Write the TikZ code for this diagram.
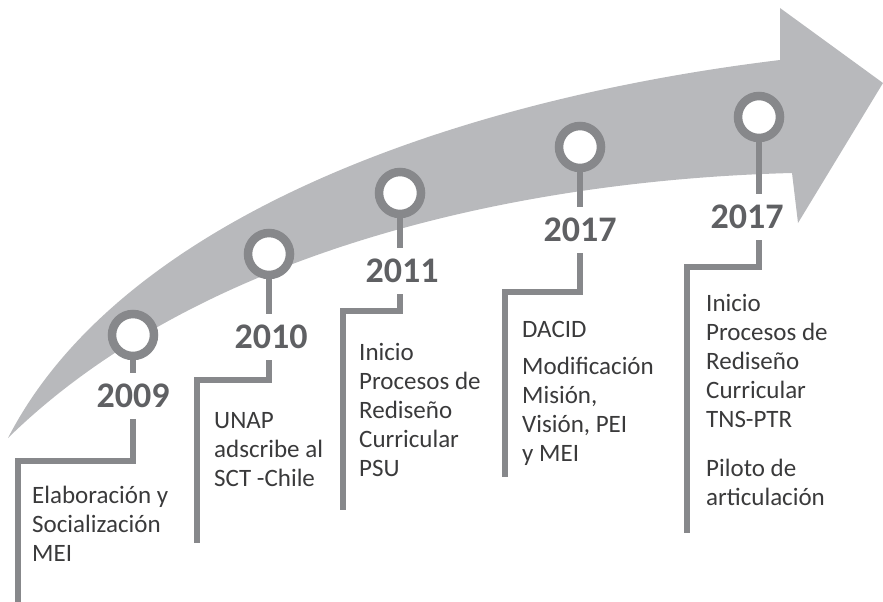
\documentclass[tikz,border=0pt]{standalone}
\usepackage{fontspec}
\setmainfont{Carlito}
\definecolor{arrowgray}{HTML}{B8B9BC}
\definecolor{linegray}{HTML}{87888B}
\definecolor{yeargray}{HTML}{5F6063}
\definecolor{textgray}{HTML}{3A3A3B}
\tikzset{
  ring/.style={circle, draw=linegray, line width=8.5pt, fill=white, minimum size=42pt, inner sep=0pt},
  year/.style={font=\fontsize{36}{40}\selectfont\bfseries, text=yeargray, inner xsep=0pt, inner ysep=11pt},
  conn/.style={draw=linegray, line width=6pt, line join=miter},
  desc/.style={anchor=base west, inner sep=0pt, text=textgray, font=\fontsize{25}{29}\selectfont}
}
\begin{document}
\begin{tikzpicture}[x=1pt, y=-1pt]
\useasboundingbox (0,0) rectangle (883,602);
% big arrow
\fill[arrowgray] (8,438) .. controls (120,220) and (450,100) .. (780,60) -- (780,8) -- (883,83) -- (798,223) -- (792,173) .. controls (520,180) and (200,250) .. (8,438) -- cycle;

% year labels
\node[year] (y1) at (133,396) {2009};
\node[year] (y2) at (271,337) {2010};
\node[year] (y3) at (402,271) {2011};
\node[year] (y4) at (580,230) {2017};
\node[year] (y5) at (747,217) {2017};

% corner and end coordinates
\coordinate (k1) at (18,461);  \coordinate (e1) at (18,602);
\coordinate (k2) at (197,380); \coordinate (e2) at (197,543);
\coordinate (k3) at (343,311); \coordinate (e3) at (343,510);
\coordinate (k4) at (505,292); \coordinate (e4) at (505,477);
\coordinate (k5) at (687,267); \coordinate (e5) at (687,533);

% circle positions
\coordinate (p1) at (133,335);
\coordinate (p2) at (269,254);
\coordinate (p3) at (400,193);
\coordinate (p4) at (580,147);
\coordinate (p5) at (759,117);

% connectors
\draw[conn] (p1) -- (p1 |- y1.north);
\draw[conn] (p1 |- y1.south) |- (k1) -- (e1);
\draw[conn] (p2) -- (p2 |- y2.north);
\draw[conn] (p2 |- y2.south) |- (k2) -- (e2);
\draw[conn] (p3) -- (p3 |- y3.north);
\draw[conn] (p3 |- y3.south) |- (k3) -- (e3);
\draw[conn] (p4) -- (p4 |- y4.north);
\draw[conn] (p4 |- y4.south) |- (k4) -- (e4);
\draw[conn] (p5) -- (p5 |- y5.north);
\draw[conn] (p5 |- y5.south) |- (k5) -- (e5);

% rings
\node[ring] (c1) at (p1) {};
\node[ring] (c2) at (p2) {};
\node[ring] (c3) at (p3) {};
\node[ring] (c4) at (p4) {};
\node[ring] (c5) at (p5) {};

% descriptions
\node[desc] (d1) at (32,503) {\begin{tabular}[t]{@{}l@{}}Elaboración y\\ Socialización\\ MEI\end{tabular}};
\node[desc] (d2) at (214,428) {\begin{tabular}[t]{@{}l@{}}UNAP\\ adscribe al\\ SCT -Chile\end{tabular}};
\node[desc] (d3) at (359,360) {\begin{tabular}[t]{@{}l@{}}Inicio\\ Procesos de\\ Rediseño\\ Curricular\\ PSU\end{tabular}};
\node[desc] (d4) at (522,337) {\begin{tabular}[t]{@{}l@{}}DACID\\[8pt] Modificación\\ Misión,\\ Visión, PEI\\ y MEI\end{tabular}};
\node[desc] (d5) at (706,311) {\begin{tabular}[t]{@{}l@{}}Inicio\\ Procesos de\\ Rediseño\\ Curricular\\ TNS-PTR\\[20pt] Piloto de\\ articulación\end{tabular}};
\end{tikzpicture}
\end{document}
